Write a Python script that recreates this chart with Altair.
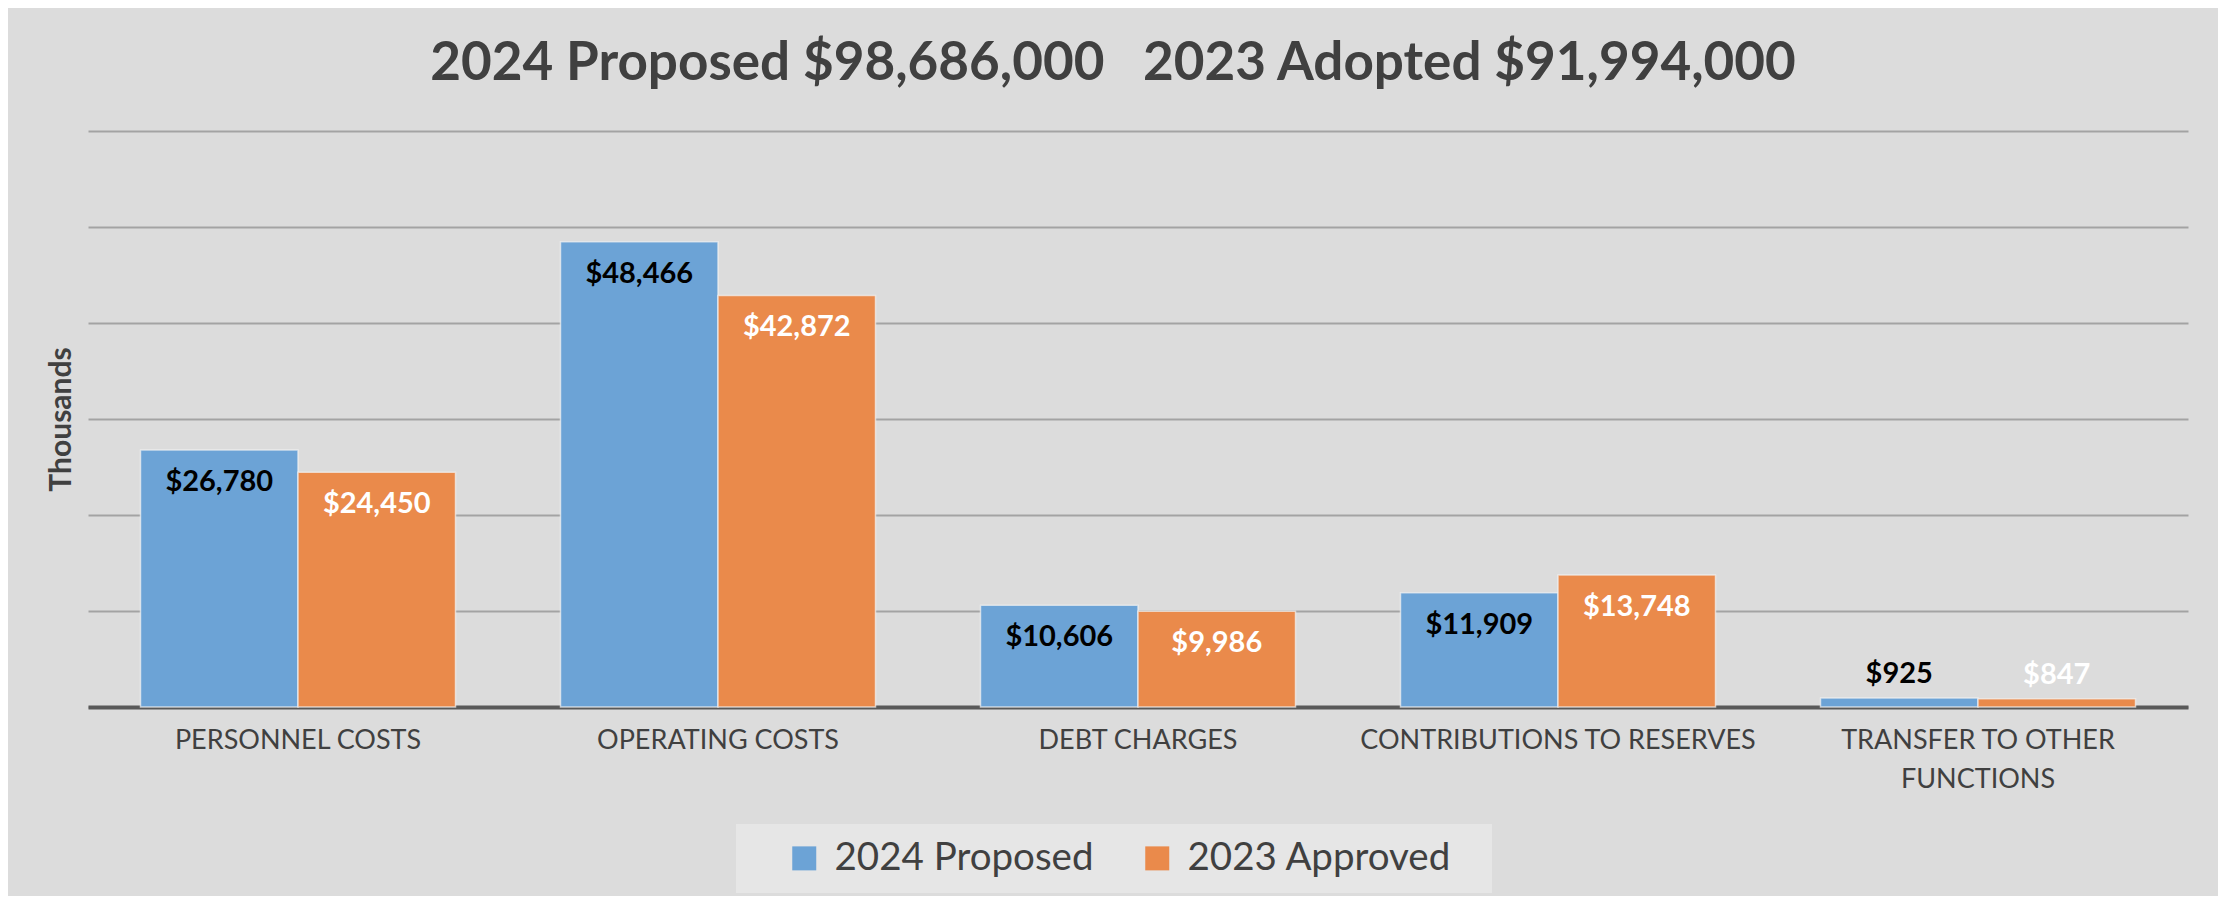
import altair as alt
import pandas as pd

categories = ["PERSONNEL COSTS", "OPERATING COSTS", "DEBT CHARGES",
              "CONTRIBUTIONS TO RESERVES", "TRANSFER TO OTHER FUNCTIONS"]
series_names = ["2024 Proposed", "2023 Approved"]
proposed_2024 = [26780, 48466, 10606, 11909, 925]
approved_2023 = [24450, 42872, 9986, 13748, 847]
colors = ["#6CA3D6", "#EA8A4B"]
label_colors = ["#000000", "#FFFFFF"]
title_text = "2024 Proposed $98,686,000\u00a0\u00a0\u00a02023 Adopted $91,994,000"

rows = []
for i, c in enumerate(categories):
    rows.append({"category": c, "series": series_names[0], "value": proposed_2024[i],
                 "label": "${:,}".format(proposed_2024[i])})
    rows.append({"category": c, "series": series_names[1], "value": approved_2023[i],
                 "label": "${:,}".format(approved_2023[i])})
df = pd.DataFrame(rows)

FONT = "Lato"
x_enc = alt.X("category:N", sort=categories, title=None,
              scale=alt.Scale(paddingInner=0.25, paddingOuter=0.125),
              axis=alt.Axis(labelAngle=0, labelFontSize=27, labelColor="#404040",
                            labelFont=FONT, ticks=False, tickSize=0, labelPadding=20,
                            domainColor="#595959", domainWidth=4, grid=False,
                            labelLineHeight=39, labelLimit=600,
                            labelExpr="datum.value == 'TRANSFER TO OTHER FUNCTIONS' ? ['TRANSFER TO OTHER', 'FUNCTIONS'] : datum.value"))
xoff = alt.XOffset("series:N", sort=series_names, scale=alt.Scale(paddingInner=0, paddingOuter=0))
y_enc = alt.Y("value:Q", scale=alt.Scale(domain=[0, 60000], nice=False),
              title="Thousands",
              axis=alt.Axis(values=[0, 10000, 20000, 30000, 40000, 50000, 60000],
                            labels=False, ticks=False, domain=False, grid=True,
                            gridColor="#A3A3A3", gridWidth=2,
                            titleFont=FONT, titleFontSize=30,
                            titleColor="#404040", titleFontWeight="bold",
                            titlePadding=12))

base = alt.Chart(df)

bars = base.mark_bar(stroke="#F2F2F2", strokeWidth=1.5, strokeOpacity=0.7).encode(
    x=x_enc, xOffset=xoff, y=y_enc,
    color=alt.Color("series:N", sort=series_names,
                    scale=alt.Scale(domain=series_names, range=colors),
                    legend=alt.Legend(title="\u00a0", titleOrient="left", titleFontSize=1,
                                      titlePadding=34,
                                      orient="none", legendX=648, legendY=693,
                                      direction="horizontal", symbolType="square",
                                      symbolSize=576, symbolStrokeWidth=0,
                                      labelFont=FONT, labelFontSize=38.5, labelColor="#404040",
                                      columnPadding=44, padding=15, fillColor="#E6E6E6",
                                      labelOffset=11, labelLimit=500,
                                      labelExpr="datum.value == '2023 Approved' ? datum.label + '\u00a0\u00a0\u2009\u200b' : datum.label")),
)

text_color = alt.Color("series:N", sort=series_names,
                       scale=alt.Scale(domain=series_names, range=label_colors), legend=None)

labels_in = base.transform_filter("datum.value >= 5000").mark_text(
    font=FONT, fontSize=29, fontWeight="bold", baseline="middle", dy=32).encode(
    x=x_enc, xOffset=xoff, y=y_enc, text="label:N", color=text_color)

labels_out = base.transform_filter("datum.value < 5000").mark_text(
    font=FONT, fontSize=29, fontWeight="bold", baseline="middle", dy=-24).encode(
    x=x_enc, xOffset=xoff, y=y_enc, text="label:N", color=text_color)

chart = alt.layer(bars, labels_in, labels_out).resolve_scale(color="independent").properties(
    width=2100, height=576,
    title=alt.TitleParams(title_text,
                          font=FONT, fontSize=53, fontWeight="bold", color="#404040",
                          anchor="middle", offset=40, dx=-25),
    background="#DCDCDC",
    autosize=alt.AutoSizeParams(type="none"),
    padding={"left": 80, "top": 123, "right": 30, "bottom": 189},
).configure_view(stroke=None).configure_axisY(
    titleFontSize=30, titleFont=FONT, titleFontWeight="bold", titleColor="#404040"
)

chart.save("out.html", embed_options={"renderer": "svg", "actions": False})
